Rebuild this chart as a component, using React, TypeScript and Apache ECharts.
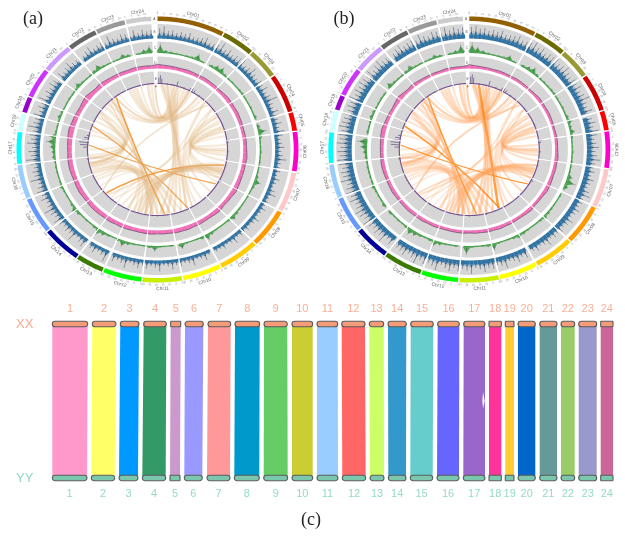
import React, { useEffect, useRef } from "react";
import * as echarts from "echarts";

// ---------- circos data ----------
const chrNames = ["Chr01","Chr02","Chr03","Chr04","Chr05","Chr06","Chr07","Chr08","Chr09","Chr10","Chr11","Chr12","Chr13","Chr14","Chr15","Chr16","Chr17","Chr18","Chr19","Chr20","Chr21","Chr22","Chr23","Chr24"];
const chrColors = ["#936000","#6b6b00","#999933","#cc0000","#ff0000","#ff00cc","#ffc8c8","#ff9900","#ffcc00","#ffff00","#c8ee00","#00ff00","#3a7a00","#000099","#6699ff","#99ccff","#00ffff","#ccffff","#9900cc","#cc33ff","#cc99ff","#666666","#999999","#cccccc"];
const sizesA = [53,25.7,24.7,31.9,15.2,32.7,33.3,32.1,31.9,30.4,30.8,30.2,21.9,30.6,29.8,27.9,26.2,14.6,12.9,24.7,24.7,23.6,23.2,19.8];
const sizesB = [53,25.7,24.7,30.8,16,30.2,31.9,33.3,31.5,30,30.8,28.9,30.6,28.1,29.5,27.9,25.5,17,12.2,23.6,24.3,23.6,23.2,19.8];
const trackLetters = ["A","B","C","D","E","F"];

const geneA = [70,85,55,62,48,58,52,66,45,50,58,72,46,52,60,88,52,70,48,62,66,72,50,58,80,55,46,60,50,68,44,58,92,48,40,64,52,46,62,42,70,55,38,46,60,40,52,75,42,38,48,32,56,40,30,50,68,36,42,34,52,38,30,58,42,32,46,36,44,32,60,38,30,50,33,38,52,36,62,40,34,70,46,38,55,42,68,44,36,75,50,40,58,40,64,48,36,80,52,42,60,44,86,50,38,62,46,40,70,52,36,84,48,58,42,54,76,46,62,90,52,44,68,50,72,58,44,88,56,62,48,66,92,58,74,50,84,60,72,56,90,62,58,76,48,64,56,84,48,66,52,72,60,52,70,46,60,78,50,48,66,42,58,74,46,55,60,46,82,52,44,64,58,42,72,48,66,52,60,50];
const geneB = [80,90,70,78,62,74,68,82,60,66,72,86,62,68,74,95,68,84,62,78,80,85,66,74,92,70,60,76,66,84,60,74,98,62,56,80,68,60,78,58,86,70,52,62,78,56,68,90,58,54,64,48,72,56,46,68,84,52,58,50,68,54,44,76,58,48,64,52,60,46,80,54,44,68,48,56,72,52,80,58,48,88,64,54,74,60,86,64,52,92,70,58,78,58,84,68,52,96,72,60,80,62,98,70,56,82,66,60,90,72,54,98,68,78,62,76,96,66,84,100,74,64,90,72,92,80,64,100,78,84,70,88,100,78,94,72,98,82,90,76,100,84,78,92,68,84,76,96,68,86,72,90,80,70,88,64,80,94,68,66,84,60,78,90,64,74,78,64,94,70,60,82,76,58,90,66,84,70,78,60];
const repeatA = [85,30,20,15,12,14,18,62,14,58,24,48,60,22,14,16,12,18,22,14,12,16,12,24,48,28,72,30,14,12,16,12,14,12,14,26,60,22,12,14,10,12,16,28,46,22,12,10,14,30,58,28,12,10,16,52,22,12,10,14,50,22,12,10,16,30,58,24,12,22,40,62,24,12,16,14,30,52,26,12,14,16,30,14,12,14,16,14,28,30,48,78,60,18,14,16,32,22,12,14,16,14,22,46,20,14,16,30,56,20,14,12,14,42,24,14,16,40,68,30];
const repeatB = [90,60,32,18,14,16,20,48,16,52,22,40,62,24,16,18,14,20,22,16,14,18,14,26,42,26,44,20,14,14,18,14,16,14,16,46,88,40,14,16,12,14,18,26,40,22,14,12,16,28,48,24,14,12,18,66,24,14,12,16,80,26,14,12,18,32,56,22,14,24,44,60,26,14,16,14,26,60,28,14,16,18,30,16,14,16,18,16,24,36,60,84,62,20,16,18,30,24,14,16,18,16,24,50,22,16,18,26,48,18,16,14,16,38,22,16,18,34,78,34];
const gcA = [35,29,27,25,24,28,25,24,27,25,24,22,24,29,27,25,28,25,24,22,25,27,25,28,32,27,28,27,29,32,36,28,27,25,34,31,27,28,31,29,34,32,35,29,31,28,32,31,29,28,31,32,29,34,31,32,35,34,31,32,36,34,31,32,35,36,34,31,32,35,39,42,36,34,31,29,35,43,34,28,36,31,28,27,28,25,29,28,27,25];
const gcB = [32,24,21,20,18,21,20,18,21,20,18,17,18,24,21,20,22,20,18,17,20,21,20,22,27,21,24,21,24,27,29,22,21,20,28,25,21,22,25,24,28,25,28,24,25,21,25,24,22,21,22,25,22,27,24,25,27,25,24,25,28,25,24,25,28,28,25,24,25,27,32,34,28,25,24,22,28,36,27,21,28,24,21,20,21,18,22,21,20,18];
const snpA = [[1,50],[2.2,70],[3.4,45],[8,10],[16,42],[22,14],[27,28],[29,34],[31,28],[36,12],[52,8],[68,10],[82,24],[84,16],[92,14],[104,12],[118,26],[120,10],[150,8],[166,10],[180,12],[196,8],[214,10],[240,8],[262,16],[272,38],[274,62],[276,70],[278,54],[280,40],[282,22],[296,10],[320,12],[334,8],[350,6]];
const snpB = [[1,60],[2.2,78],[3.4,52],[8,12],[16,46],[22,16],[27,30],[29,36],[31,30],[36,14],[52,10],[68,12],[82,30],[84,20],[92,18],[104,14],[118,22],[120,10],[150,10],[166,14],[180,14],[196,10],[214,12],[240,10],[262,18],[272,42],[274,70],[276,74],[278,60],[280,44],[282,26],[296,12],[320,10],[334,8],[350,6]];
// ribbon rows: position 1, position 2, width, strength
const linksA = [[-24,29,3,.3],[-21,26,3,.3],[-18,23,3,.3],[-14,20,2,.28],[-8,17,3,.35],[-5,14,2,.3],[-37,36,2,.45],[-33,38,1,.3],[-2,27,2,.45],[-42,40,2,.28],[-46,44,1.5,.28],[3,172,3,.35],[5,178,2.5,.35],[8,155,2.5,.5],[11,166,2.5,.35],[14,160,2,.35],[17,150,1.5,.3],[66,95,2,.3],[70,92,3,.28],[74,90,3,.3],[78,86,2,.28],[58,100,2,.3],[47,232,1.5,.4],[52,226,2,.3],[42,220,1.5,.28],[311,257,3,.28],[305,262,3,.28],[300,265,2,.28],[296,270,2,.28],[318,256,2,.28],[283,262,2,.28],[287,258,2,.28],[290,254,2,.28],[291,154,1.2,.78],[274,122,1.2,.78],[228,104,1.5,.8],[211,110,2,.28],[206,108,2,.28],[200,104,3,.28],[194,107,3,.42],[190,110,3,.42],[197,113,2,.35],[186,116,2,.35],[184,320,3,.32],[180,316,2,.32],[174,323,1.5,.8],[169,305,2,.3],[160,303,2,.3],[263,165,2,.3],[258,180,3,.28],[250,190,3,.3],[245,200,2,.28],[255,170,2,.28],[252,176,2,.28],[248,186,2,.28],[242,196,2,.28],[236,204,1.5,.28],[222,190,1.5,.26],[216,186,1.5,.26],[205,184,1.5,.26],[140,60,2,.28],[146,52,2,.28],[130,72,2,.32],[112,60,2,.28],[116,64,2,.28],[120,70,1.5,.28],[150,44,2,.28]];
const linksB = [[-24,29,3,.35],[-21,26,3,.35],[-18,23,3,.35],[-14,20,2,.3],[-8,17,3,.45],[-5,14,2,.35],[-37,36,2,.5],[-33,38,1,.3],[-2,27,2,.5],[-42,40,2,.3],[-46,44,1.5,.3],[3,172,3,.45],[5,178,2.5,.45],[8,155,2.5,.78],[11,166,2.5,.45],[14,160,2,.45],[17,150,1.5,.35],[66,95,2,.4],[70,92,3,.35],[74,90,3,.4],[78,86,2,.35],[58,100,2,.35],[47,232,1.5,.5],[52,226,2,.35],[42,220,1.5,.3],[311,257,3,.3],[305,262,3,.28],[300,265,2,.28],[296,270,2,.28],[318,256,2,.3],[283,262,2,.26],[287,258,2,.26],[290,254,2,.26],[291,154,1.5,.85],[274,122,1.2,.85],[228,104,1.5,.42],[211,110,1.5,.22],[206,108,2,.28],[200,104,2,.3],[194,107,3,.48],[190,110,3,.48],[197,113,2,.4],[186,116,2,.4],[184,320,3,.42],[180,316,2,.42],[174,323,1.5,.8],[169,305,2,.35],[160,303,2,.35],[263,165,2,.3],[258,180,3,.28],[250,190,3,.3],[245,200,2,.28],[255,170,2,.26],[252,176,2,.26],[248,186,2,.26],[242,196,2,.26],[236,204,1.5,.26],[222,190,1.5,.24],[216,186,1.5,.24],[205,184,1.5,.24],[140,60,2,.28],[146,52,2,.28],[130,72,2,.38],[112,60,2,.28],[116,64,2,.28],[120,70,1.5,.28],[150,44,2,.28]];

// ---------- synteny data ----------
const barLabels = ["1","2","3","4","5","6","7","8","9","10","11","12","13","14","15","16","17","18","19","20","21","22","23","24"];
const barColors = ["#ff99cc","#ffff66","#0099ff","#339966","#cc99cc","#9999ff","#ff9999","#0099cc","#66cc66","#cccc33","#99ccff","#ff6666","#ccff66","#3399cc","#66cccc","#6666ff","#9966cc","#ff3399","#ffcc33","#0066cc","#669999","#99cc66","#9999cc","#cc6699"];
const xxStart = [0.3,40.3,68.3,91.7,118.7,133,156,183,212,240,265,289.7,317.3,336,358.7,385.7,411.7,437,453.3,466,487.7,509,526.7,548.7];
const xxEnd = [35.7,64,87,114.3,128.7,151.3,178.7,207.7,235.3,260.7,285.7,313,331.7,354.3,381.3,407.3,433,449.3,462,483.3,505,522.7,544.7,561];
const yyStart = [0.3,39.3,67,90.3,118,132.3,155,182.3,211.7,240,265,290.3,318,336.3,358.3,385,411.3,437,453.3,466,487.7,509,526.7,548.7];
const yyEnd = [35,62.7,86,113.7,128,150.3,178,207.3,235.7,260.7,286,313.7,332,354,380.7,407,433,449.3,462,483.3,505,522.7,544.7,561];
const sliver17 = [[431,56],[432.6,50],[431,45],[430.4,50]];

// ---------- style constants ----------
const GAP = 0.6, END_DEG = 357.4, EXT = 145;
const R_CHR: [number, number] = [128.5, 133];
const R_GENE: [number, number] = [111, 125.5];
const R_REP: [number, number] = [96.5, 108];
const R_GC: [number, number] = [81, 93];
const R_SNP: [number, number] = [65.5, 78];
const R_LINK = 65;
const SANS = "Liberation Sans";
const SERIF = "Liberation Serif";

const sum = (a: number[]) => a.reduce((s, v) => s + v, 0);
function layout(sizes: number[]) {
  const k = (END_DEG - GAP * (sizes.length - 1)) / sum(sizes);
  let a = 0;
  return sizes.map((s) => { const st = a; a = st + s * k; const en = a; a += GAP; return [st, en, k]; });
}
function pt(api: any, a: number, r: number) {
  const t = (a * Math.PI) / 180;
  return api.coord([r * Math.sin(t), r * Math.cos(t)]);
}
function ring(api: any, a0: number, a1: number, r0: number, r1: number) {
  const n = Math.max(1, Math.ceil(a1 - a0));
  const pts: number[][] = [];
  for (let i = 0; i <= n; i++) pts.push(pt(api, a0 + ((a1 - a0) * i) / n, r1));
  for (let i = n; i >= 0; i--) pts.push(pt(api, a0 + ((a1 - a0) * i) / n, r0));
  return pts;
}
const seg = (p: number[], q: number[], stroke: string, lineWidth: number, opacity = 1) => ({
  type: "line", shape: { x1: p[0], y1: p[1], x2: q[0], y2: q[1] }, style: { stroke, lineWidth, opacity },
});

function circleSeries(ci: number, sizes: number[], gene: number[], rep: number[], gc: number[], snp: number[][], links: number[][], linkSoft: string, linkStrong: string, geneLow: number) {
  const spans = layout(sizes);
  const common = { type: "custom", coordinateSystem: "cartesian2d", xAxisIndex: ci, yAxisIndex: ci, silent: true, animation: false, clip: false };
  const inChr = (a: number) => spans.some((s) => a >= s[0] && a <= s[1]);
  const panels: number[][] = [];
  spans.forEach((s, i) => {
    panels.push([s[0], s[1], R_CHR[0], R_CHR[1], i]);
    [R_GENE, R_REP, R_GC, R_SNP].forEach((r) => panels.push([s[0], s[1], r[0], r[1], -1]));
  });
  const out: any[] = [];
  out.push({ ...common, z: 1, data: panels, renderItem: (_: any, api: any) => {
    const idx = api.value(4);
    return { type: "polygon", shape: { points: ring(api, api.value(0), api.value(1), api.value(2), api.value(3)) }, style: { fill: idx < 0 ? "#d6d6d6" : chrColors[idx] } };
  }});
  const spikes = (values: number[], r: [number, number], fill: string, hair: string, low: number, hairW: number, apexK: number, baseK: number) => {
    const w = 360 / values.length;
    return { ...common, z: 2, data: values.map((v, i) => [i, v]), renderItem: (_: any, api: any) => {
      const i = api.value(0), a = (i + 0.5) * w;
      if (!inChr(a)) return null;
      const h = r[1] - r[0], v = api.value(1) / 100, nx = values[(i + 1) % values.length] / 100;
      const lo = r[0] + Math.min(v, low) * h, apex = r[0] + (low + Math.max(v - low, 0) * apexK) * h;
      const kids: any[] = [
        { type: "polygon", shape: { points: ring(api, a - w / 2, a + w / 2, r[0], lo) }, style: { fill } },
        { type: "polygon", shape: { points: [pt(api, a - w * baseK, lo), pt(api, a, apex), pt(api, a + w * baseK, lo)] }, style: { fill, opacity: 0.9 } },
        seg(pt(api, a, lo), pt(api, a, r[0] + v * h), hair, hairW, 0.85),
      ];
      const am = a + w / 2;
      if (inChr(am)) kids.push(seg(pt(api, am, lo), pt(api, am, r[0] + Math.max(low, 0.7 * Math.min(v, nx)) * h), hair, hairW * 0.8, 0.6));
      return { type: "group", children: kids };
    }};
  };
  out.push(spikes(gene, R_GENE, "#2f72a4", "#2b3a4e", geneLow, 0.55, 0.4, 0.4));
  out.push(spikes(rep, R_REP, "#40a045", "#3c4a4c", 0.1, 0.4, 0.75, 0.7));
  const gw = 360 / gc.length;
  out.push({ ...common, z: 2, data: gc.map((v, i) => [i, v]), renderItem: (_: any, api: any) => {
    const i = api.value(0), a0 = i * gw, a1 = a0 + gw;
    const v0 = R_GC[0] + (api.value(1) / 100) * (R_GC[1] - R_GC[0]);
    const v1 = R_GC[0] + (gc[(i + 1) % gc.length] / 100) * (R_GC[1] - R_GC[0]);
    const p0 = pt(api, a0, v0), p1 = pt(api, a1, v1), b0 = pt(api, a0, R_GC[0]), b1 = pt(api, a1, R_GC[0]);
    if (a0 > END_DEG) return null;
    return { type: "group", children: [
      { type: "polygon", shape: { points: [b0, p0, p1, b1] }, style: { fill: "#f06fb6" } },
      seg(p0, p1, "#4f3a55", 0.6),
    ]};
  }});
  out.push({ ...common, z: 2, data: spans.map((s) => [s[0], s[1]]), renderItem: (_: any, api: any) => ({
    type: "polygon", shape: { points: ring(api, api.value(0), api.value(1), R_SNP[0], R_SNP[0] + 1.1) }, style: { fill: "#75508f" },
  })});
  out.push({ ...common, z: 2, data: snp, renderItem: (_: any, api: any) => {
    const a = api.value(0);
    return seg(pt(api, a, R_SNP[0]), pt(api, a, R_SNP[0] + (api.value(1) / 100) * (R_SNP[1] - R_SNP[0])), "#6f5a8c", 0.8);
  }});
  // radial white separators
  out.push({ ...common, z: 3, data: spans.slice(0, -1).map((s, i) => [s[1], spans[i + 1][0]]), renderItem: (_: any, api: any) => ({
    type: "polygon", shape: { points: ring(api, api.value(0), api.value(1), R_SNP[0], R_GENE[1] + 1) }, style: { fill: "#ffffff" },
  })});
  // ribbons
  out.push({ ...common, z: 2, data: links, renderItem: (_: any, api: any) => {
    const a1 = api.value(0), a2 = api.value(1), w = api.value(2), s = api.value(3);
    const p = pt(api, a1, R_LINK), q = pt(api, a2, R_LINK);
    let d = ((a2 - a1) % 360 + 360) % 360; if (d > 180) d -= 360;
    const bow = 0.45 * (d / 180) * (d / 180);
    const c = pt(api, a1 + d / 2, bow * R_LINK);
    return { type: "bezierCurve", shape: { x1: p[0], y1: p[1], x2: q[0], y2: q[1], cpx1: c[0], cpy1: c[1] }, style: { fill: "none", stroke: s > 0.7 ? linkStrong : linkSoft, lineWidth: w, opacity: s } };
  }});
  // outer ticks + numbers
  const ticks: number[][] = [];
  spans.forEach((s, i) => { for (let m = 0; m <= sizes[i]; m += 5) ticks.push([s[0] + m * s[2], m]); });
  out.push({ ...common, z: 2, data: ticks, renderItem: (_: any, api: any) => {
    const a = api.value(0), t = pt(api, a, R_CHR[1] + 2.6);
    return { type: "group", children: [
      seg(pt(api, a, R_CHR[1]), pt(api, a, R_CHR[1] + 1), "#999", 0.4),
      { type: "text", x: t[0], y: t[1], rotation: textRot(a), style: { text: String(api.value(1)), fontSize: 2.6, fontFamily: SANS, fill: "#888", align: "center", verticalAlign: "middle" } },
    ]};
  }});
  out.push({ ...common, z: 4, data: spans.map((s) => [(s[0] + s[1]) / 2]), renderItem: (params: any, api: any) => {
    const a = api.value(0), t = pt(api, a, 139);
    return { type: "text", x: t[0], y: t[1], rotation: textRot(a), style: { text: chrNames[params.dataIndex], fontSize: 4.8, fontFamily: SANS, fill: "#666", align: "center", verticalAlign: "middle" } };
  }});
  out.push({ ...common, z: 4, data: [130.7, 118, 102, 87, 71, 62.5].map((r) => [r]), renderItem: (params: any, api: any) => {
    const t = pt(api, 358.7, api.value(0));
    return { type: "text", x: t[0], y: t[1], style: { text: trackLetters[params.dataIndex], fontSize: 3.2, fontFamily: SANS, fill: "#555", align: "center", verticalAlign: "middle" } };
  }});
  return out;
}
function textRot(a: number) {
  const x = a > 90 && a < 270 ? 180 - a : -a;
  return (x * Math.PI) / 180;
}

function syntenySeries() {
  const common = { type: "custom", coordinateSystem: "cartesian2d", xAxisIndex: 2, yAxisIndex: 2, silent: true, animation: false, clip: false };
  const XXY = 100, YYY = 0;
  const bar = (starts: number[], ends: number[], yv: number, fill: string) => ({ ...common, z: 3, data: starts.map((s, i) => [s, ends[i]]), renderItem: (_: any, api: any) => {
    const p = api.coord([api.value(0), yv]), q = api.coord([api.value(1), yv]), w = q[0] - p[0];
    return { type: "rect", shape: { x: p[0], y: p[1] - 2.8, width: w, height: 5.6, r: w < 13 ? 0.5 : 2.8 }, style: { fill, stroke: "#5c5c5c", lineWidth: 1.1 } };
  }});
  const lab = (starts: number[], ends: number[], yv: number, dy: number, fill: string) => ({ ...common, z: 4, data: starts.map((s, i) => [(s + ends[i]) / 2]), renderItem: (params: any, api: any) => {
    const p = api.coord([api.value(0), yv]);
    return { type: "text", x: p[0], y: p[1] + dy, style: { text: barLabels[params.dataIndex], fontSize: 11, fontFamily: SANS, fill, align: "center", verticalAlign: "middle" } };
  }});
  return [
    { ...common, z: 1, data: xxStart.map((s, i) => [s, xxEnd[i], yyStart[i], yyEnd[i]]), renderItem: (params: any, api: any) => ({
      type: "polygon", shape: { points: [api.coord([api.value(0), XXY]), api.coord([api.value(1), XXY]), api.coord([api.value(3), YYY]), api.coord([api.value(2), YYY])] }, style: { fill: barColors[params.dataIndex] },
    })},
    { ...common, z: 2, data: [0], renderItem: (_: any, api: any) => ({ type: "polygon", shape: { points: sliver17.map((p) => api.coord(p)) }, style: { fill: "#ffffff" } }) },
    bar(xxStart, xxEnd, XXY, "#f49b78"),
    bar(yyStart, yyEnd, YYY, "#7ac7ae"),
    lab(xxStart, xxEnd, XXY, -16.5, "#f7b097"),
    lab(yyStart, yyEnd, YYY, 14.5, "#93dcc3"),
  ];
}

const gridFor = (left: number) => ({ left, top: 4.5, width: 307.4, height: 290 });
const axisX = (gridIndex: number, min: number, max: number) => ({ type: "value", gridIndex, min, max, show: false });

const option: any = {
  animation: false,
  backgroundColor: "#ffffff",
  grid: [gridFor(3.8), gridFor(315.6), { left: 52, top: 324, width: 561, height: 154 }],
  xAxis: [axisX(0, -EXT, EXT), axisX(1, -EXT, EXT), axisX(2, 0, 561)],
  yAxis: [axisX(0, -EXT, EXT), axisX(1, -EXT, EXT), axisX(2, 0, 100)],
  series: [
    ...circleSeries(0, sizesA, geneA, repeatA, gcA, snpA, linksA, "#dfb27a", "#ee8a1e", 0.2),
    ...circleSeries(1, sizesB, geneB, repeatB, gcB, snpB, linksB, "#ffa25c", "#ff8412", 0.28),
    ...syntenySeries(),
  ],
  graphic: [
    { type: "text", x: 23, y: 9, style: { text: "(a)", fontSize: 18, fontFamily: SERIF, fill: "#222" } },
    { type: "text", x: 333.5, y: 9, style: { text: "(b)", fontSize: 18, fontFamily: SERIF, fill: "#222" } },
    { type: "text", x: 301, y: 510, style: { text: "(c)", fontSize: 18, fontFamily: SERIF, fill: "#222" } },
    { type: "text", x: 16, y: 316.5, style: { text: "XX", fontSize: 13, fontFamily: SANS, fill: "#f7a98c" } },
    { type: "text", x: 16, y: 470.5, style: { text: "YY", fontSize: 13, fontFamily: SANS, fill: "#8fd9c0" } },
  ],
};

export default function App() {
  const ref = useRef<HTMLDivElement>(null);
  useEffect(() => {
    const chart = echarts.init(ref.current!, undefined, { renderer: "svg" });
    chart.setOption(option);
    return () => chart.dispose();
  }, []);
  return <div ref={ref} style={{ position: "fixed", left: 0, top: 0, width: 625, height: 539, filter: "blur(0.35px)" }} />;
}
